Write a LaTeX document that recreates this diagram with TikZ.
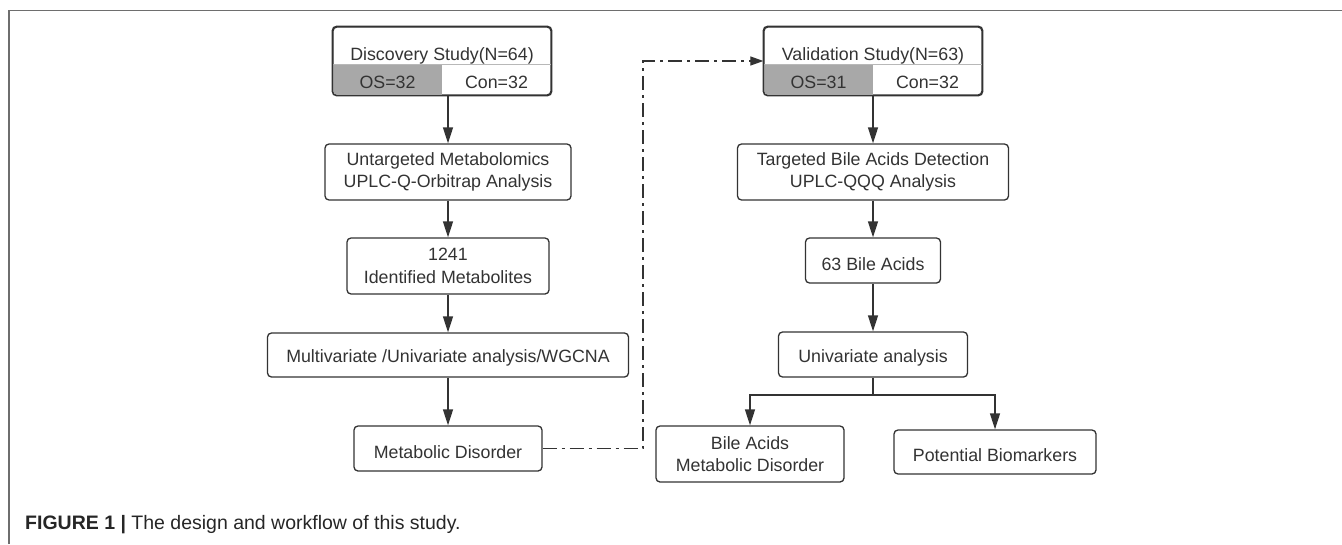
\documentclass[tikz,border=0pt]{standalone}
\usepackage{fontspec}
\setmainfont{Liberation Sans}
\usetikzlibrary{arrows.meta}

\definecolor{ink}{HTML}{333333}
\definecolor{cellgray}{HTML}{A8A8A8}
\definecolor{framegray}{HTML}{6E6E6E}

% pushes the first text line of a box slightly down
\newcommand\boxpad{\rule{0pt}{19.5pt}}

\tikzset{
  boxtext/.style={font=\fontsize{17.8}{22.5}\selectfont, text=ink},
  box/.style={boxtext, draw=ink, line width=1.3pt, rounded corners=4pt,
    fill=white, align=center, inner sep=0pt,
    execute at begin node=\boxpad},
  celltext/.style={boxtext, inner sep=0pt, anchor=base},
  arr/.style={draw=ink, line width=1.3pt, -{Triangle[length=16pt,width=10pt]}},
  plain/.style={draw=ink, line width=1.3pt},
  link/.style={draw=ink, line width=1.2pt,
    dash pattern=on 14pt off 5pt on 3pt off 5pt,
    -{Triangle[length=13pt,width=9pt]}},
}

\begin{document}
\begin{tikzpicture}[x=1pt, y=-1pt]
\useasboundingbox (0,0) rectangle (1342,544);

% outer frame (top and left edges)
\draw[framegray, line width=1.5pt] (9,544) -- (9,10.5) -- (1342,10.5);

% ---------- study boxes with split group row ----------
\node[box, minimum width=218pt, minimum height=68pt] (disc) at (442,61) {};
\begin{scope}
  \clip[rounded corners=4pt] (333,27) rectangle (551,95);
  \fill[cellgray] (333,64) rectangle (442,95);
\end{scope}
\draw[ink!35, line width=0.6pt] (333,64) -- (551,64);
\draw[ink, line width=1.3pt, rounded corners=4pt] (disc.south west) rectangle (disc.north east);
\node[celltext] (dischead) at (442,60) {Discovery Study(N=64)};
\node[celltext] (discos)   at (387.5,88) {OS=32};
\node[celltext] (disccon)  at (496.5,88) {Con=32};

\node[box, minimum width=218pt, minimum height=68pt] (valid) at (873,61) {};
\begin{scope}
  \clip[rounded corners=4pt] (764,27) rectangle (982,95);
  \fill[cellgray] (764,64) rectangle (873,95);
\end{scope}
\draw[ink!35, line width=0.6pt] (764,64) -- (982,64);
\draw[ink, line width=1.3pt, rounded corners=4pt] (valid.south west) rectangle (valid.north east);
\node[celltext] (validhead) at (873,60) {Validation Study(N=63)};
\node[celltext] (validos)   at (818.5,88) {OS=31};
\node[celltext] (validcon)  at (927.5,88) {Con=32};

% ---------- discovery column ----------
\node[box, minimum width=246pt, minimum height=56pt] (untar) at (448,172)
  {Untargeted Metabolomics\\UPLC-Q-Orbitrap Analysis};
\node[box, minimum width=202pt, minimum height=56pt] (ident) at (448,266)
  {1241\\Identified Metabolites};
\node[box, minimum width=361pt, minimum height=44pt] (multi) at (448,355)
  {Multivariate /Univariate analysis/WGCNA};
\node[box, minimum width=188pt, minimum height=45pt] (metab) at (448,448.5)
  {Metabolic Disorder};

% ---------- validation column ----------
\node[box, minimum width=271pt, minimum height=56pt] (targ) at (873,172)
  {Targeted Bile Acids Detection\\UPLC-QQQ Analysis};
\node[box, minimum width=135pt, minimum height=45pt] (bile) at (873,260.5)
  {63 Bile Acids};
\node[box, minimum width=189pt, minimum height=45pt] (univ) at (873,354.5)
  {Univariate analysis};
\node[box, minimum width=188pt, minimum height=56pt] (bamd) at (750,454)
  {Bile Acids\\Metabolic Disorder};
\node[box, minimum width=202pt, minimum height=44pt] (pbio) at (995,452)
  {Potential Biomarkers};

% ---------- connectors ----------
\draw[arr] (untar.north |- disc.south) -- (untar.north);
\draw[arr] (untar) -- (ident);
\draw[arr] (ident) -- (multi);
\draw[arr] (multi) -- (metab);

\draw[arr] (valid) -- (targ);
\draw[arr] (targ) -- (bile);
\draw[arr] (bile) -- (univ);

\coordinate (fork) at (873,395);
\draw[plain] (univ.south) -- (fork);
\draw[arr] (fork) -| (bamd.north);
\draw[arr] (fork) -| (pbio.north);

\coordinate (jog) at (643,448.5);
\draw[link] (metab.east) -- (jog) |- (valid.west);

% ---------- caption ----------
\node[anchor=base west, inner sep=0pt, text=black!85,
      font=\fontsize{19.5}{22}\selectfont] (caption) at (25,529)
  {\textbf{FIGURE 1 |} The design and workflow of this study.};
\end{tikzpicture}
\end{document}
